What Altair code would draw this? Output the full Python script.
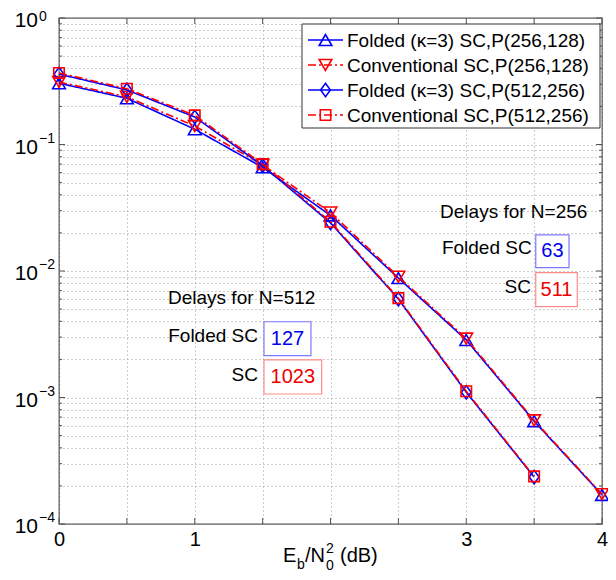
import altair as alt
import pandas as pd

# ---------------- data ----------------
snr_256 = [0, 0.5, 1, 1.5, 2, 2.5, 3, 3.5, 4]
ber_folded_256 = [0.305, 0.232, 0.132, 0.066, 0.0275, 0.0088, 0.00285, 0.00065, 0.00017]
ber_conv_256 = [0.312, 0.238, 0.140, 0.069, 0.0290, 0.0090, 0.00292, 0.00066, 0.000172]
snr_512 = [0, 0.5, 1, 1.5, 2, 2.5, 3, 3.5]
ber_folded_512 = [0.360, 0.270, 0.165, 0.068, 0.0240, 0.0060, 0.00110, 0.000235]
ber_conv_512 = [0.368, 0.276, 0.170, 0.070, 0.0245, 0.0061, 0.00112, 0.000238]

series_names = [
    "Folded (κ=3) SC,P(256,128)",
    "Conventional SC,P(256,128)",
    "Folded (κ=3) SC,P(512,256)",
    "Conventional SC,P(512,256)",
]
series_x = [snr_256, snr_256, snr_512, snr_512]
series_y = [ber_folded_256, ber_conv_256, ber_folded_512, ber_conv_512]
series_colors = ["#0000ff", "#ff0000", "#0000ff", "#ff0000"]
series_shapes = ["triangle-up", "triangle-down", "M-0.8,0L0,-1.1L0.8,0L0,1.1Z", "square"]
series_sizes = [160, 160, 150, 110]
series_dash = [[1, 0], [8, 3, 2, 3], [1, 0], [8, 3, 2, 3]]

x_ticks = [0, 0.5, 1, 1.5, 2, 2.5, 3, 3.5, 4]
x_tick_labels = ["0", "", "1", "", "", "", "3", "", "4"]
y_decades = [1, 0.1, 0.01, 0.001, 0.0001]
y_exponents = ["0", "\u22121", "\u22122", "\u22123", "\u22124"]
y_minor = [m * d for d in [0.0001, 0.001, 0.01, 0.1] for m in range(2, 10)]

# annotations (data coordinates)
ann_texts = ["Delays for N=256", "Folded SC", "SC", "Delays for N=512", "Folded SC", "SC"]
ann_x = [2.807, 3.482, 3.477, 0.803, 1.466, 1.466]
ann_y = [0.0294, 0.0152, 0.00748, 0.00612, 0.00306, 0.001507]
ann_align = ["left", "right", "right", "left", "right", "right"]

box_text = ["63", "511", "127", "1023"]
box_x = [3.512, 3.512, 1.510, 1.510]
box_x2 = [3.757, 3.818, 1.856, 1.935]
box_y = [0.01927, 0.00970, 0.00397, 0.00198]
box_y2 = [0.01062, 0.00522, 0.00214, 0.001066]
box_text_colors = ["#0000ee", "#ee0000", "#0000ee", "#ee0000"]
box_stroke_colors = ["#7a7aff", "#ff8a8a", "#7a7aff", "#ff8a8a"]

# ---------------- styling ----------------
W, H = 543, 506
FONT = "Liberation Sans"
FRAME = "#555555"
GRID = "#9a9a9a"
FS = 19

xs = alt.Scale(domain=[0, 4], nice=False, zero=False)
ys = alt.Scale(type="log", domain=[1e-4, 1], nice=False)

rows = []
for name, xv, yv in zip(series_names, series_x, series_y):
    for a, b in zip(xv, yv):
        rows.append({"series": name, "snr": a, "ber": b})
df = pd.DataFrame(rows)

label_expr = " : ".join(
    f"datum.value == {v} ? '{l}'" for v, l in zip(x_ticks, x_tick_labels) if l
) + " : ''"

x_axis = alt.Axis(
    values=x_ticks, labelExpr=label_expr, grid=True, gridDash=[1, 3], gridColor=GRID,
    gridOpacity=1, ticks=False, domain=False, labelFontSize=FS + 1, labelFont=FONT,
    labelColor="black", labelPadding=5, labelFlush=False, labelOverlap=False, title=None,
)
y_axis = alt.Axis(
    values=y_decades + y_minor, labels=False, ticks=False, domain=False, grid=True,
    gridDash=[1, 3], gridColor=GRID, gridOpacity=1, title=None,
)


def X(field):
    return alt.X(f"{field}:Q", scale=xs, axis=x_axis)


def Y(field):
    return alt.Y(f"{field}:Q", scale=ys, axis=y_axis)


layers = []

# inward ticks on all four sides
xt = pd.DataFrame({"v": x_ticks})
for y0, y1 in [(H, H - 6), (0, 6)]:
    layers.append(
        alt.Chart(xt).mark_rule(color=FRAME, strokeWidth=1).encode(
            x=X("v"), y=alt.value(y0), y2=alt.value(y1)
        )
    )
ymaj = pd.DataFrame({"v": y_decades})
ymin = pd.DataFrame({"v": y_minor})
for d, ln in [(ymaj, 6), (ymin, 3)]:
    for x0, x1 in [(0, ln), (W, W - ln)]:
        layers.append(
            alt.Chart(d).mark_rule(color=FRAME, strokeWidth=1).encode(
                y=Y("v"), x=alt.value(x0), x2=alt.value(x1)
            )
        )

# y tick labels 10^k
ylab = pd.DataFrame({"v": y_decades, "exp": y_exponents, "base": ["10"] * len(y_decades)})
layers.append(
    alt.Chart(ylab).mark_text(align="right", baseline="alphabetic", font=FONT, fontSize=FS + 2,
                              dy=9, color="black").encode(
        y=Y("v"), x=alt.value(-21), text="base:N"
    )
)
# exponent of the top label is nudged down slightly so it stays inside the page
for part, dyv in [(ylab.iloc[:1], 3), (ylab.iloc[1:], -2)]:
    layers.append(
        alt.Chart(part).mark_text(align="left", baseline="alphabetic", font=FONT, fontSize=14,
                                  dy=dyv, color="black").encode(
            y=Y("v"), x=alt.value(-20), text="exp:N"
        )
    )

# data series
for name, col, shp, sz, dash in zip(series_names, series_colors, series_shapes, series_sizes, series_dash):
    sub = df[df["series"] == name]
    layers.append(
        alt.Chart(sub).mark_line(color=col, strokeWidth=1.6, strokeDash=dash).encode(
            x=X("snr"), y=Y("ber")
        )
    )
    layers.append(
        alt.Chart(sub).mark_point(shape=shp, size=sz, filled=False, color=col, strokeWidth=1.6,
                                  opacity=1).encode(x=X("snr"), y=Y("ber"))
    )

# annotation boxes with delays
bx = pd.DataFrame({"t": box_text, "x": box_x, "x2": box_x2, "y": box_y, "y2": box_y2,
                   "tc": box_text_colors, "sc": box_stroke_colors})
bx["xm"] = (bx["x"] + bx["x2"]) / 2
bx["ym"] = (bx["y"] * bx["y2"]) ** 0.5
layers.append(
    alt.Chart(bx).mark_rect(fill="white", strokeWidth=1.2).encode(
        x=X("x"), x2="x2:Q", y=Y("y"), y2="y2:Q",
        stroke=alt.Stroke("sc:N", scale=None),
    )
)
layers.append(
    alt.Chart(bx).mark_text(font=FONT, fontSize=FS + 1, align="center", baseline="middle").encode(
        x=X("xm"), y=Y("ym"), text="t:N", color=alt.Color("tc:N", scale=None),
    )
)
ann = pd.DataFrame({"t": ann_texts, "x": ann_x, "y": ann_y, "a": ann_align})
for al in ["left", "right"]:
    layers.append(
        alt.Chart(ann[ann["a"] == al]).mark_text(font=FONT, fontSize=FS, align=al, baseline="middle",
                                                  color="black").encode(
            x=X("x"), y=Y("y"), text="t:N"
        )
    )

# legend (drawn manually)
one = pd.DataFrame({"k": [0]})
layers.append(
    alt.Chart(one).mark_rect(fill="white", stroke="#333333", strokeWidth=1).encode(
        x=alt.value(243), x2=alt.value(541), y=alt.value(6), y2=alt.value(110)
    )
)
for i, (name, col, shp, sz, dash) in enumerate(zip(series_names, series_colors, series_shapes, series_sizes, series_dash)):
    yc = 22 + 25 * i
    ld = pd.DataFrame({"t": [name]})
    layers.append(
        alt.Chart(ld).mark_rule(color=col, strokeWidth=1.6, strokeDash=dash).encode(
            x=alt.value(249), x2=alt.value(284), y=alt.value(yc)
        )
    )
    layers.append(
        alt.Chart(ld).mark_point(shape=shp, size=sz, filled=False, color=col, strokeWidth=1.6,
                                 opacity=1).encode(x=alt.value(266.5), y=alt.value(yc))
    )
    layers.append(
        alt.Chart(ld).mark_text(font=FONT, fontSize=FS, align="left", baseline="middle",
                                color="black").encode(x=alt.value(288), y=alt.value(yc + 1), text="t:N")
    )

# x-axis title  E_b/N_0^2 (dB)
title_parts = [
    ("E", 224, 544, FS + 1),
    ("b", 238, 551, 14),
    ("/N", 246, 544, FS + 1),
    ("0", 267, 552, 14),
    ("2", 267, 535, 14),
    ("(dB)", 281, 544, FS + 1),
]
for txt, px, py, fs in title_parts:
    layers.append(
        alt.Chart(pd.DataFrame({"t": [txt]})).mark_text(
            font=FONT, fontSize=fs, align="left", baseline="alphabetic", color="black"
        ).encode(x=alt.value(px), y=alt.value(py), text="t:N")
    )

chart = alt.layer(*layers).properties(
    width=W, height=H,
    autosize=alt.AutoSizeParams(type="none"),
    padding={"left": 51, "top": 10, "right": 6, "bottom": 48},
    background="white",
).configure_view(stroke=FRAME, strokeWidth=1.3)

chart.save("out.html", embed_options={"renderer": "svg", "actions": False})
